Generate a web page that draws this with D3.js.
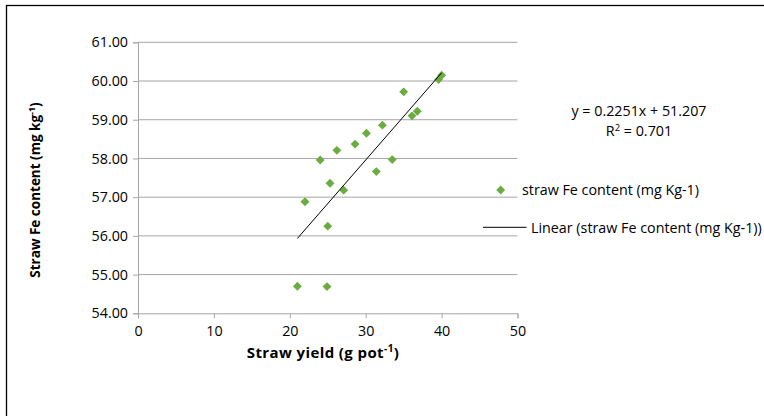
<!DOCTYPE html>
<html><head><meta charset="utf-8">
<script src="https://cdn.jsdelivr.net/npm/d3@7"></script>
<style>body{margin:0;background:#fff}svg{display:block}text{font-family:"Open Sans",sans-serif;fill:#000}</style>
</head><body><svg id="c" width="764" height="416"></svg>
<script>
const xValues = [21.0, 24.9, 22.0, 25.0, 24.0, 25.3, 27.1, 26.2, 28.6, 30.1, 31.4, 32.2, 33.5, 35.0, 36.1, 36.8, 39.6, 40.0];
const yValues = [54.70, 54.69, 56.88, 56.25, 57.96, 57.36, 57.18, 58.21, 58.37, 58.65, 57.66, 58.86, 57.97, 59.72, 59.10, 59.22, 60.04, 60.15];
const xTicks = [0, 10, 20, 30, 40, 50];
const yTicks = [54, 55, 56, 57, 58, 59, 60, 61];
const slope = 0.2251, intercept = 51.207, r2 = "0.701";
const seriesName = "straw Fe content (mg Kg-1)";
const trendName = "Linear (straw Fe content (mg Kg-1))";

const svg = d3.select("#c");
const green = "#6aac3f", grid = "#a6a6a6";
const x = d3.scaleLinear().domain([0, 50]).range([138, 517.5]);
const y = d3.scaleLinear().domain([54, 61]).range([313.3, 42.3]);
const FS = 14.3;

svg.append("rect").attr("x", 6.5).attr("y", 5.5).attr("width", 900).attr("height", 600)
  .attr("fill", "none").attr("stroke", "#000").attr("stroke-width", 1.3);

svg.append("g").selectAll("line").data(yTicks.slice(1)).join("line")
  .attr("x1", x(0)).attr("x2", x(50)).attr("y1", d => y(d)).attr("y2", d => y(d))
  .attr("stroke", grid).attr("stroke-width", 1);

const yAxis = svg.append("g").attr("transform", `translate(${x(0)},0)`)
  .call(d3.axisLeft(y).tickValues(yTicks).tickFormat(d3.format(".2f")).tickSize(5).tickPadding(5));
const xAxis = svg.append("g").attr("transform", `translate(0,${y(54)})`)
  .call(d3.axisBottom(x).tickValues(xTicks).tickSize(5).tickPadding(7.5));
[yAxis, xAxis].forEach(g => {
  g.select(".domain").attr("stroke", grid);
  g.selectAll(".tick line").attr("stroke", grid);
  g.selectAll("text").attr("font-size", FS).attr("font-family", "Open Sans").attr("fill", "#000");
});

const pts = xValues.map((v, i) => [v, yValues[i]]);
const diamond = d3.symbol().type(d3.symbolDiamond2).size(50);
svg.append("g").selectAll("path").data(pts).join("path")
  .attr("d", diamond).attr("transform", d => `translate(${x(d[0])},${y(d[1])})`)
  .attr("fill", green);

const xmin = d3.min(xValues), xmax = d3.max(xValues);
svg.append("line").attr("x1", x(xmin)).attr("y1", y(slope * xmin + intercept))
  .attr("x2", x(xmax)).attr("y2", y(slope * xmax + intercept))
  .attr("stroke", "#000").attr("stroke-width", 1);

const eq = svg.append("g").attr("font-size", FS);
eq.append("text").attr("x", 639).attr("y", 115.5).attr("text-anchor", "middle")
  .text(`y = ${slope}x + ${intercept}`);
const r = eq.append("text").attr("x", 639).attr("y", 135.5).attr("text-anchor", "middle");
r.append("tspan").text("R");
r.append("tspan").attr("font-size", 9.5).attr("dy", -5).text("2");
r.append("tspan").attr("dy", 5).text(` = ${r2}`);

svg.append("path").attr("d", diamond).attr("transform", "translate(500.7,190)").attr("fill", green);
svg.append("text").attr("x", 522).attr("y", 195).attr("font-size", FS).text(seriesName);
svg.append("line").attr("x1", 483).attr("x2", 526.5).attr("y1", 227.3).attr("y2", 227.3).attr("stroke", "#000");
svg.append("text").attr("x", 531).attr("y", 232.5).attr("font-size", FS).text(trendName);

const yt = svg.append("text").attr("font-weight", "bold").attr("font-size", 13.5)
  .attr("text-anchor", "middle").attr("transform", "translate(40,190) rotate(-90)");
yt.append("tspan").text("Straw Fe content (mg kg");
yt.append("tspan").attr("font-size", 9).attr("dy", -5).text("-1");
yt.append("tspan").attr("dy", 5).text(")");
const xt = svg.append("text").attr("font-weight", "bold").attr("font-size", 15)
  .attr("letter-spacing", 0.4)
  .attr("text-anchor", "middle").attr("x", 323).attr("y", 357.5);
xt.append("tspan").text("Straw yield (g pot");
xt.append("tspan").attr("font-size", 10).attr("dy", -5.5).text("-1");
xt.append("tspan").attr("dy", 5.5).text(")");
</script></body></html>
